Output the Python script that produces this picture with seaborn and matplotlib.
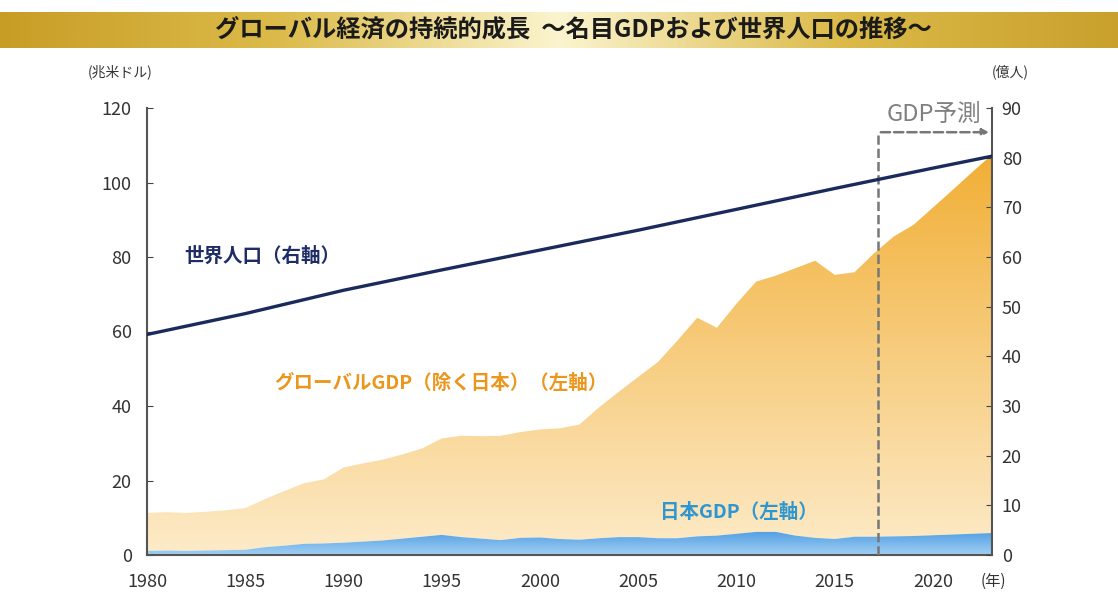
import numpy as np
import pandas as pd
import seaborn as sns
import matplotlib.pyplot as plt
from matplotlib.colors import LinearSegmentedColormap

sns.set_style('white')
plt.rcParams['font.family'] = ['Noto Sans CJK JP', 'DejaVu Sans']

# データ (兆米ドル / 億人)
years = list(range(1980, 2024))
japan_gdp = [1.1, 1.2, 1.1, 1.2, 1.3, 1.4, 2.1, 2.5, 3.0, 3.1,
             3.3, 3.6, 3.9, 4.4, 4.9, 5.4, 4.8, 4.4, 4.0, 4.6,
             4.7, 4.3, 4.1, 4.5, 4.8, 4.8, 4.5, 4.5, 5.0, 5.2,
             5.7, 6.2, 6.2, 5.2, 4.6, 4.3, 4.9, 4.9, 5.0, 5.1,
             5.3, 5.5, 5.7, 5.9]
global_ex_japan = [10.2, 10.3, 10.2, 10.4, 10.7, 11.2, 12.9, 14.7, 16.3, 17.2,
                   20.2, 21.0, 21.7, 22.6, 23.7, 25.9, 27.2, 27.5, 28.0, 28.4,
                   29.0, 29.7, 30.9, 35.1, 39.0, 43.0, 47.3, 53.1, 58.7, 55.8,
                   61.8, 67.2, 68.8, 71.8, 74.4, 70.9, 71.0, 76.1, 80.5, 83.5,
                   88.0, 92.5, 97.1, 101.6]
pop_years = [1980, 1985, 1990, 1995, 2000, 2005, 2010, 2015, 2020, 2023]
world_pop = [44.4, 48.6, 53.3, 57.4, 61.4, 65.4, 69.6, 73.8, 77.9, 80.3]
forecast_start = 2017.2

df = pd.DataFrame({'year': years, 'japan': japan_gdp, 'ex_japan': global_ex_japan})
df['total'] = df['japan'] + df['ex_japan']
pop = pd.DataFrame({'year': pop_years, 'pop': world_pop})

fig = plt.figure(figsize=(11.18, 5.98), dpi=100)
ax = fig.add_axes([147/1118, 1-555/598, (992-147)/1118, (555-108)/598])

# グラデーション付き面グラフ
def gradient_fill(ax, x, y0, y1, c_top, c_bottom, ymax):
    poly = ax.fill_between(x, y0, y1, color='none', lw=0)
    cmap = LinearSegmentedColormap.from_list('g', [c_bottom, c_top])
    grad = np.linspace(0, 1, 256).reshape(-1, 1)
    im = ax.imshow(grad, cmap=cmap, aspect='auto', origin='lower',
                   extent=[x.min(), x.max(), 0, ymax], zorder=1)
    im.set_clip_path(poly.get_paths()[0], transform=ax.transData)

gradient_fill(ax, df['year'], df['japan'], df['total'], '#f1ad32', '#fdebc9', 110)
gradient_fill(ax, df['year'], 0, df['japan'], '#4e9de2', '#a2cff3', 6.5)

ax.set_xlim(1980, 2023)
ax.set_ylim(0, 120)
ax.set_yticks(range(0, 121, 20))
ax.set_xticks(range(1980, 2021, 5))
ax.tick_params(direction='in', length=4, colors='#444', labelsize=13, labelcolor='#333')
ax.tick_params(axis='y', pad=11)
ax.tick_params(axis='x', pad=13)
for s in ['left', 'bottom']:
    ax.spines[s].set_color('#555')
    ax.spines[s].set_linewidth(1.5)
ax.spines['top'].set_visible(False)
ax.spines['right'].set_visible(False)
ax.set_xlabel('')
ax.set_ylabel('')

ax2 = ax.twinx()
sns.lineplot(data=pop, x='year', y='pop', ax=ax2, color='#1b2a5c', lw=2.4, zorder=5)
ax2.set_ylim(0, 90)
ax2.set_xlim(1980, 2023)
ax2.set_yticks(range(0, 91, 10))
ax2.tick_params(direction='in', length=4, colors='#444', labelsize=13, labelcolor='#333', pad=7)
ax2.spines['right'].set_color('#555')
ax2.spines['right'].set_linewidth(1.5)
for s in ['top', 'left', 'bottom']:
    ax2.spines[s].set_visible(False)
ax2.set_xlabel('')
ax2.set_ylabel('')

# 予測区間の枠
ax.plot([forecast_start, forecast_start], [0, 113.5], ls='--', color='#777', lw=1.8, zorder=6)
ax.annotate('', xy=(2023, 113.5), xytext=(forecast_start, 113.5),
            arrowprops=dict(arrowstyle='-|>', ls='--', color='#777', lw=1.8), zorder=6)
ax.text(2020.05, 118, 'GDP予測', ha='center', va='center', fontsize=17, color='#808080')

# 系列ラベル
ax.text(1981.9, 80.3, '世界人口（右軸）', va='center', fontsize=14, fontweight='bold', color='#1f2d66')
ax.text(1986.5, 46.2, 'グローバルGDP（除く日本）（左軸）', va='center', fontsize=14,
        fontweight='bold', color='#eb961c')
ax.text(2006.1, 11.5, '日本GDP（左軸）', va='center', fontsize=14, fontweight='bold', color='#2f96d0')

fig.text(120/1118, 1-72/598, '(兆米ドル)', ha='center', va='center', fontsize=10, color='#333')
fig.text(1010/1118, 1-72/598, '(億人)', ha='center', va='center', fontsize=10, color='#333')
fig.text(993/1118, 1-581/598, '(年)', ha='center', va='center', fontsize=11, color='#333')

# タイトル帯
bx = fig.add_axes([0, 1-48/598, 1, 36/598])
band = LinearSegmentedColormap.from_list('band', ['#c89d26', '#dcbb4a', '#fbf4cf', '#dcbb4a', '#c9a02c'])
bx.imshow(np.linspace(0, 1, 512).reshape(1, -1), cmap=band, aspect='auto', extent=[0, 1, 0, 1])
bx.set_axis_off()
bx.text(0.513, 0.5, 'グローバル経済の持続的成長  ～名目GDPおよび世界人口の推移～',
        ha='center', va='center', fontsize=17.5, fontweight='bold', color='#1a1a1a')

plt.savefig('out.png', dpi=100)
